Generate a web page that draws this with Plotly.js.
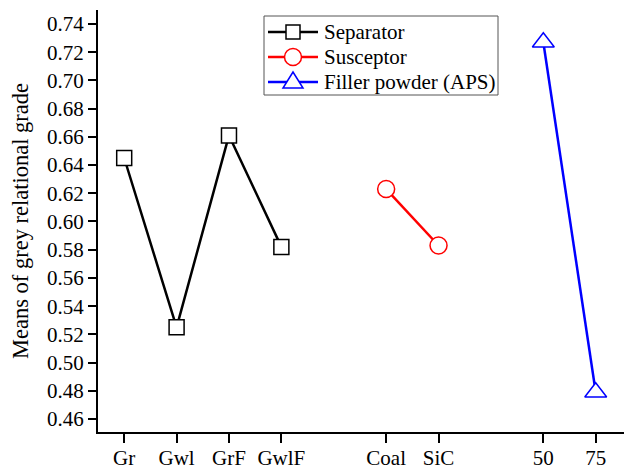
<!DOCTYPE html>
<html>
<head>
<meta charset="utf-8">
<script src="https://cdn.plot.ly/plotly-3.0.1.min.js"></script>
<style>html,body{margin:0;padding:0;background:#fff;}#chart{width:624px;height:469px;}</style>
</head>
<body>
<div id="chart"></div>
<script>
// Categories per factor
const separatorCats = ["Gr", "Gwl", "GrF", "GwlF"];
const susceptorCats = ["Coal", "SiC"];
const fillerCats = ["50", "75"];
// Means of grey relational grade
const separatorVals = [0.645, 0.525, 0.661, 0.582];
const susceptorVals = [0.623, 0.583];
const fillerVals = [0.727, 0.479];
const seriesNames = ["Separator", "Susceptor", "Filler powder (APS)"];
const seriesColors = ["#000000", "#ff0000", "#0000ff"];

// positions: consecutive slots with one empty slot between factor groups
const groups = [separatorCats, susceptorCats, fillerCats];
const groupX = [];
let pos = 1;
groups.forEach(function (g) {
  const xs = [];
  g.forEach(function () { xs.push(pos); pos += 1; });
  groupX.push(xs);
  pos += 1;
});
const allCats = [].concat(separatorCats, susceptorCats, fillerCats);
const allX = [].concat(groupX[0], groupX[1], groupX[2]);

const font = "Liberation Serif, Times New Roman, serif";
const W = 624, H = 469;
const M = {l: 98, r: 0, t: 10, b: 37};
const pw = W - M.l - M.r, ph = H - M.t - M.b;
function px2x(p) { return (p - M.l) / pw; }
function px2y(p) { return (H - M.b - p) / ph; }

const traces = [
  {
    x: groupX[0], y: separatorVals, name: seriesNames[0], type: "scatter", mode: "lines+markers",
    line: {color: seriesColors[0], width: 2.5},
    marker: {symbol: "square", size: 15, color: "#ffffff", line: {color: seriesColors[0], width: 1.5}}
  },
  {
    x: groupX[1], y: susceptorVals, name: seriesNames[1], type: "scatter", mode: "lines+markers",
    line: {color: seriesColors[1], width: 2.5},
    marker: {symbol: "circle", size: 17, color: "#ffffff", line: {color: seriesColors[1], width: 1.5}}
  },
  {
    x: groupX[2], y: fillerVals, name: seriesNames[2], type: "scatter", mode: "lines+markers",
    line: {color: seriesColors[2], width: 2.5},
    marker: {symbol: "triangle-up", size: 19, color: "#ffffff", line: {color: seriesColors[2], width: 1.5}}
  }
];

// Custom legend (box, sample lines, symbols, labels) in paper coordinates
const shapes = [];
const annotations = [];
const box = {x0: 264, x1: 498, y0: 16, y1: 95};
shapes.push({type: "rect", xref: "paper", yref: "paper",
  x0: px2x(box.x0), x1: px2x(box.x1), y0: px2y(box.y1), y1: px2y(box.y0),
  line: {color: "#555555", width: 1}, fillcolor: "#ffffff", layer: "above"});
const rowY = [32, 57, 82];
const symX = 293;
seriesNames.forEach(function (nm, i) {
  const c = seriesColors[i];
  const yy = rowY[i];
  shapes.push({type: "line", xref: "paper", yref: "paper",
    x0: px2x(268), x1: px2x(318), y0: px2y(yy), y1: px2y(yy),
    line: {color: c, width: 2.5}, layer: "above"});
  if (i === 0) {
    shapes.push({type: "rect", xref: "paper", yref: "paper",
      x0: px2x(symX - 7), x1: px2x(symX + 7), y0: px2y(yy + 7), y1: px2y(yy - 7),
      line: {color: c, width: 1.5}, fillcolor: "#ffffff", layer: "above"});
  } else if (i === 1) {
    shapes.push({type: "circle", xref: "paper", yref: "paper",
      x0: px2x(symX - 8.5), x1: px2x(symX + 8.5), y0: px2y(yy + 8.5), y1: px2y(yy - 8.5),
      line: {color: c, width: 1.5}, fillcolor: "#ffffff", layer: "above"});
  } else {
    const p = "M " + px2x(symX - 10) + " " + px2y(yy + 6) +
      " L " + px2x(symX + 10) + " " + px2y(yy + 6) +
      " L " + px2x(symX) + " " + px2y(yy - 10) + " Z";
    shapes.push({type: "path", xref: "paper", yref: "paper", path: p,
      line: {color: c, width: 1.5}, fillcolor: "#ffffff", layer: "above"});
  }
  annotations.push({xref: "paper", yref: "paper", x: px2x(322), y: px2y(yy),
    xanchor: "left", yanchor: "middle", showarrow: false, text: nm,
    font: {family: font, size: 21, color: "#000000"}});
});

const layout = {
  width: W, height: H,
  paper_bgcolor: "#ffffff", plot_bgcolor: "#ffffff",
  margin: M,
  font: {family: font, size: 21, color: "#000000"},
  showlegend: false,
  shapes: shapes,
  annotations: annotations,
  xaxis: {
    range: [0.5, 10.54],
    tickmode: "array", tickvals: allX, ticktext: allCats,
    showgrid: false, zeroline: false,
    showline: true, linecolor: "#000000", linewidth: 2,
    ticks: "outside", ticklen: 9, tickwidth: 2, tickcolor: "#000000",
    ticklabelstandoff: -3,
    tickfont: {family: font, size: 21, color: "#000000"}
  },
  yaxis: {
    range: [0.4508, 0.7499],
    tickmode: "linear", tick0: 0.46, dtick: 0.02, tickformat: ".2f",
    showgrid: false, zeroline: false,
    showline: true, linecolor: "#000000", linewidth: 2,
    ticks: "outside", ticklen: 8, tickwidth: 2, tickcolor: "#000000",
    tickfont: {family: font, size: 21, color: "#000000"},
    title: {text: "Means of grey relational grade", font: {family: font, size: 22.5, color: "#000000"}, standoff: 12}
  }
};

Plotly.newPlot("chart", traces, layout, {displayModeBar: false, staticPlot: true});
</script>
</body>
</html>
